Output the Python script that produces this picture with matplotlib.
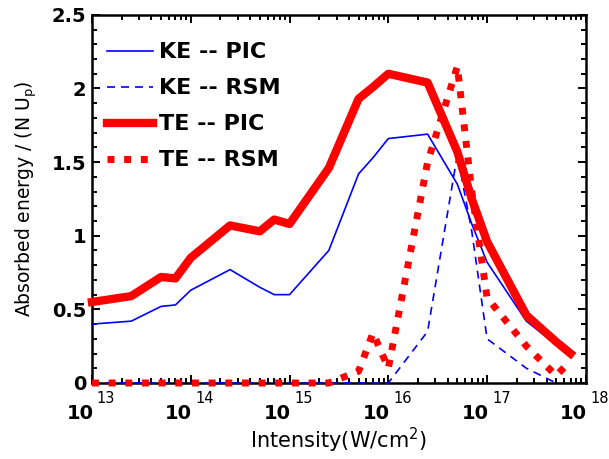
import numpy as np
import matplotlib
matplotlib.use('Agg')
from matplotlib import pyplot as plt
from matplotlib import transforms
from matplotlib.ticker import LogLocator, NullFormatter, MultipleLocator

# intensity grid (W/cm^2)
intensity = [1e13, 2.5e13, 5e13, 7e13, 1e14, 2.5e14, 5e14, 7e14, 1e15, 2.5e15,
             5e15, 7e15, 1e16, 2.5e16, 5e16, 7e16, 1e17, 2.5e17, 5e17, 7e17]

ke_pic = [0.40, 0.42, 0.52, 0.53, 0.63, 0.77, 0.65, 0.60, 0.60, 0.90,
          1.42, 1.53, 1.66, 1.69, 1.35, 1.08, 0.82, 0.42, 0.26, 0.18]
ke_rsm = [0, 0, 0, 0, 0, 0, 0, 0, 0, 0,
          0, 0, 0, 0.35, 1.55, 1.03, 0.30, 0.10, 0.0, np.nan]
te_pic = [0.55, 0.59, 0.72, 0.71, 0.85, 1.07, 1.03, 1.11, 1.08, 1.46,
          1.93, 2.01, 2.10, 2.04, 1.57, 1.25, 0.96, 0.46, 0.28, 0.20]
te_rsm = [0, 0, 0, 0, 0, 0, 0, 0, 0, 0,
          0.08, 0.34, 0.10, 1.50, 2.15, 1.30, 0.58, 0.25, 0.05, 0.15]

xtick_exp = [13, 14, 15, 16, 17, 18]
ytick_pos = [0, 0.5, 1, 1.5, 2, 2.5]
ytick_lab = ['0', '0.5', '1', '1.5', '2', '2.5']

fig = plt.figure(figsize=(6.09, 4.59), dpi=100)
ax = fig.add_axes([0.151, 0.1656, 0.811, 0.802])

ax.plot(intensity, ke_pic, color='blue', lw=1.2, label='KE -- PIC', clip_on=False, zorder=3)
ax.plot(intensity, ke_rsm, color='blue', lw=1.2, ls=(0, (4.8, 3.6)), label='KE -- RSM',
        clip_on=False, zorder=3)
ax.plot(intensity, te_pic, color='red', lw=6, label='TE -- PIC', clip_on=False, zorder=3,
        solid_joinstyle='round')
ax.plot(intensity, te_rsm, color='red', lw=5, ls=(0, (1, 1.4)), label='TE -- RSM',
        clip_on=False, zorder=3)

ax.set_xscale('log')
ax.set_xlim(1e13, 1e18)
ax.set_ylim(0, 2.5)
ax.set_xticks([10.0 ** e for e in xtick_exp])
ax.set_xticklabels([''] * len(xtick_exp))
ax.xaxis.set_minor_locator(LogLocator(base=10, subs=np.arange(2, 10)))
ax.xaxis.set_minor_formatter(NullFormatter())
ax.set_yticks(ytick_pos)
ax.set_yticklabels(ytick_lab, fontweight='bold')
ax.yaxis.set_minor_locator(MultipleLocator(0.1))

ax.tick_params(which='both', direction='in', top=True, right=True, width=1.4, labelsize=14)
ax.tick_params(which='major', length=6)
ax.tick_params(which='minor', length=3.5)
ax.tick_params(axis='y', pad=4)
for s in ax.spines.values():
    s.set_linewidth(1.8)

# x tick labels: bold "10" with a raised plain exponent
trans = transforms.blended_transform_factory(ax.transData, ax.transAxes)
for e in xtick_exp:
    t_base = transforms.offset_copy(trans, fig=fig, x=1, y=-15, units='points')
    ax.text(10.0 ** e, 0, '10', transform=t_base, ha='right', va='top',
            fontsize=14, fontweight='bold', clip_on=False)
    t_exp = transforms.offset_copy(trans, fig=fig, x=3.5, y=-5.5, units='points')
    ax.text(10.0 ** e, 0, str(e), transform=t_exp, ha='left', va='top',
            fontsize=10.5, clip_on=False)

ax.set_xlabel('Intensity(W/cm$^2$)', fontsize=15, labelpad=27)
ax.set_ylabel(r'Absorbed energy / (N U$_\mathrm{p}$)', fontsize=13.5, labelpad=9)

ax.legend(loc='upper left', bbox_to_anchor=(0.03, 0.925), frameon=False,
          prop={'weight': 'bold', 'size': 16}, handlelength=2.1, handletextpad=0.25,
          labelspacing=0.72, borderpad=0, borderaxespad=0)

fig.savefig('out.png', dpi=100)
